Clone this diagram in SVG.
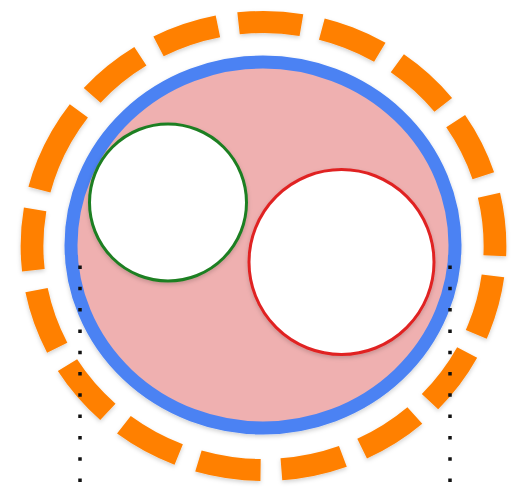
<svg xmlns="http://www.w3.org/2000/svg" width="514" height="488" viewBox="0 0 514 488">
  <defs>
    <filter id="shadow" x="-10%" y="-10%" width="120%" height="120%">
      <feDropShadow dx="0" dy="2" stdDeviation="2" flood-color="#000" flood-opacity="0.18"/>
    </filter>
  </defs>
  <style>
    .outer { fill: none; stroke: #ff8000; stroke-width: 22; stroke-dasharray: 61 20.16; }
    .body { fill: #efb0b0; stroke: #4b82f3; stroke-width: 13; }
    .hole { fill: #ffffff; stroke-width: 3; }
    .dots { stroke: #111; stroke-width: 3.5; stroke-dasharray: 3.5 17.8; fill: none; }
  </style>
  <rect width="514" height="488" fill="#ffffff"/>
  <g id="outer-ring" filter="url(#shadow)">
    <circle class="outer" cx="0" cy="0" r="224" transform="translate(263.5 246) scale(1.0335 1) rotate(201.5)"/>
  </g>
  <g id="cell" filter="url(#shadow)">
    <ellipse class="body" cx="263" cy="245" rx="192" ry="183"/>
  </g>
  <g id="green-circle" filter="url(#shadow)">
    <circle class="hole" cx="168" cy="202.5" r="78.5" stroke="#1f7f22"/>
  </g>
  <g id="red-circle" filter="url(#shadow)">
    <circle class="hole" cx="341.5" cy="262" r="92.5" stroke="#e02424"/>
  </g>
  <g id="connectors">
    <line class="dots" x1="80" y1="265.5" x2="80" y2="488"/>
    <line class="dots" x1="450" y1="265.5" x2="450" y2="488"/>
  </g>
</svg>
